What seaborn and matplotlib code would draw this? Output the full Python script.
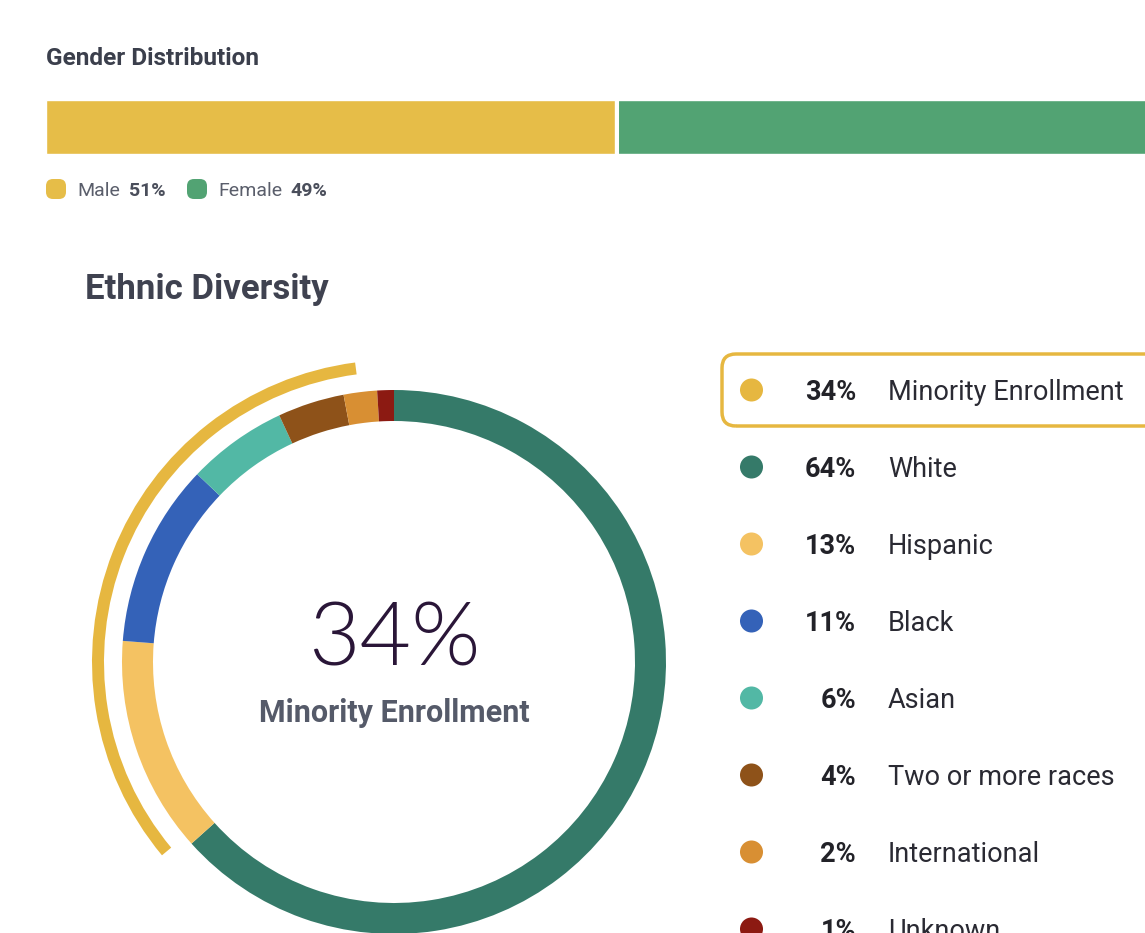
import matplotlib
matplotlib.use("Agg")
import matplotlib.pyplot as plt
import seaborn as sns
from matplotlib.patches import FancyBboxPatch

# data
gender_labels = ["Male", "Female"]
gender_values = [51, 49]
gender_colors = ["#E6BD48", "#52A373"]

minority_share = 34
ethnic_labels = ["White", "Hispanic", "Black", "Asian", "Two or more races", "International", "Unknown"]
ethnic_values = [64, 13, 11, 6, 4, 2, 1]
ethnic_colors = ["#357A69", "#F4C262", "#3462B8", "#52B8A5", "#8E5219", "#D88F33", "#8C1A12"]
minority_color = "#E6B740"

W, H = 1145, 933

sns.set_theme(style="white")
plt.rcParams["font.family"] = ["Roboto", "DejaVu Sans"]


def Y(py):
    return H - py


fig = plt.figure(figsize=(W / 100, H / 100), dpi=100)
fig.patch.set_facecolor("white")
ax = fig.add_axes([0, 0, 1, 1])

# gender bar
ax_bar = fig.add_axes([46 / W, Y(154) / H, 1116 / W, 54 / H])
sns.barplot(x=[100], y=["g"], color=gender_colors[1], width=1, saturation=1, ax=ax_bar)
sns.barplot(x=[gender_values[0]], y=["g"], color=gender_colors[0], width=1, saturation=1, ax=ax_bar)
ax_bar.axvline(gender_values[0] + 0.13, color="white", lw=2.2)
ax_bar.set_xlim(0, 100)
ax_bar.set_ylim(0.5, -0.5)
ax_bar.axis("off")

ax.text(46, Y(65), "Gender Distribution", fontsize=17.6, fontweight="bold", color="#3B3F4C")

gx = [(46, 77, 129), (187, 218, 290)]
for (dx, tx, px), lab, val, col in zip(gx, gender_labels, gender_values, gender_colors):
    ax.add_patch(FancyBboxPatch((dx, Y(199)), 20, 20, boxstyle="round,pad=0,rounding_size=7",
                                facecolor=col, edgecolor="none"))
    ax.text(tx, Y(195.5), lab, fontsize=14, color="#5A5E6B")
    ax.text(px, Y(195.5), f"{val}%", fontsize=14, fontweight="bold", color="#4A4E5B")

# ethnic diversity
ax.text(85, Y(299.5), "Ethnic Diversity", fontsize=25, fontweight="bold", color="#3F4250")

cx, cy = 394, Y(662)
ax.pie(ethnic_values, colors=ethnic_colors, startangle=90, counterclock=False,
       radius=272, center=(cx, cy), wedgeprops=dict(width=31, linewidth=0), frame=True)
ax.pie([minority_share, 100 - minority_share], colors=[minority_color, "none"], startangle=97.4,
       counterclock=True, radius=302, center=(cx, cy), wedgeprops=dict(width=12, linewidth=0), frame=True)

ax.text(cx, Y(665), f"{minority_share}%", fontsize=64, fontweight=300, color="#2A1638", ha="center",
        family=["Lato", "Roboto", "DejaVu Sans"])
ax.text(cx, Y(721.5), "Minority Enrollment", fontsize=22, fontweight="bold", color="#555A69", ha="center")

# legend
leg_labels = ["Minority Enrollment"] + ethnic_labels
leg_values = [minority_share] + ethnic_values
leg_colors = [minority_color] + ethnic_colors
rows = [390 + 77 * i for i in range(len(leg_labels))]

ax.add_patch(FancyBboxPatch((722, Y(426)), 480, 72, boxstyle="round,pad=0,rounding_size=14",
                            facecolor="none", edgecolor=minority_color, lw=2.5))
sns.scatterplot(x=[751.5] * len(rows), y=[Y(r) for r in rows], hue=leg_labels, palette=leg_colors,
                s=275, linewidth=0, legend=False, ax=ax)
for r, lab, val in zip(rows, leg_labels, leg_values):
    ax.text(856, Y(r + 10), f"{val}%", fontsize=19.5, fontweight="bold", color="#222228", ha="right")
    ax.text(888, Y(r + 10), lab, fontsize=19.5, color="#2A2A33")

ax.set_xlim(0, W)
ax.set_ylim(0, H)
ax.set_aspect("auto")
ax.axis("off")

fig.savefig("out.png", dpi=100, facecolor="white")
